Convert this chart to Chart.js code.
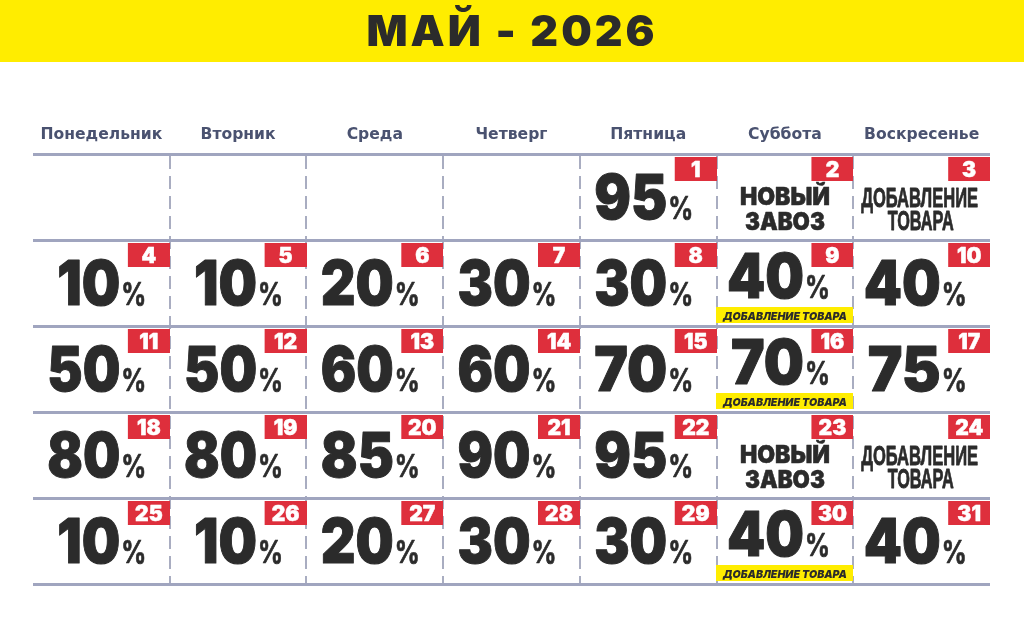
<!DOCTYPE html>
<html>
<head>
<meta charset="utf-8">
<style>
  html, body { margin: 0; background: #fff; }
  canvas { display: block; }
</style>
<script src="https://cdn.jsdelivr.net/npm/chart.js@4"></script>
</head>
<body>
<canvas id="calendar" width="1024" height="640"></canvas>
<script>
const monthTitle = "МАЙ - 2026";
const weekdays = ["Понедельник", "Вторник", "Среда", "Четверг", "Пятница", "Суббота", "Воскресенье"];
const weeks = ["w1", "w2", "w3", "w4", "w5"];
const firstDayColumn = 4;
const days = [1, 2, 3, 4, 5, 6, 7, 8, 9, 10, 11, 12, 13, 14, 15, 16, 17, 18, 19, 20, 21, 22, 23, 24, 25, 26, 27, 28, 29, 30, 31];
const discounts = [95, null, null, 10, 10, 20, 30, 30, 40, 40, 50, 50, 60, 60, 70, 70, 75, 80, 80, 85, 90, 95, null, null, 10, 10, 20, 30, 30, 40, 40];
const newStockDays = [2, 23];
const restockDays = [3, 24];
const stripDays = [9, 16, 30];
const newStockLines = ["НОВЫЙ", "ЗАВОЗ"];
const restockLines = ["ДОБАВЛЕНИЕ", "ТОВАРА"];
const stripText = "ДОБАВЛЕНИЕ ТОВАРА";

const heavy = "Inter, 'Open Sans', sans-serif";
const ink = "#2b2b2b";

function cellOf(day) {
  const slot = day - 1 + firstDayColumn;
  return { x: weekdays[slot % 7], y: weeks[Math.floor(slot / 7)], day: day };
}

// the badge and the strip are stamps the size of one cell, placed by the point element
function cellStamp(color, x, y, w, h) {
  const c = document.createElement("canvas");
  c.width = 137;
  c.height = 86;
  const g = c.getContext("2d");
  g.fillStyle = color;
  g.fillRect(x, y, w, h);
  return c;
}

function boldText(ctx, text, x, y, maxWidth, stroke) {
  ctx.lineWidth = stroke;
  ctx.lineJoin = "round";
  ctx.strokeStyle = ctx.fillStyle;
  ctx.strokeText(text, x, y, maxWidth);
  ctx.fillText(text, x, y, maxWidth);
}

function drawDiscount(ctx, p, value, lifted) {
  const base = p.y + (lifted ? 15 : 22);
  const width = value === 10 ? 63 : value === 40 ? 77 : 73;
  ctx.fillStyle = ink;
  ctx.textAlign = "right";
  ctx.font = "900 62px " + heavy;
  boldText(ctx, String(value), p.x + 19, base, width, 1);
  ctx.textAlign = "left";
  ctx.font = "700 31px " + heavy;
  boldText(ctx, "%", p.x + 20, base, 25, 0.7);
}

const calendarText = {
  id: "calendarText",
  beforeDraw(chart) {
    const ctx = chart.ctx;
    ctx.save();
    ctx.fillStyle = "#ffed00";
    ctx.fillRect(0, 0, chart.width, 62);
    ctx.restore();
  },
  afterDatasetsDraw(chart) {
    const ctx = chart.ctx;
    const points = chart.getDatasetMeta(0).data;
    ctx.save();
    ctx.textBaseline = "alphabetic";

    ctx.fillStyle = ink;
    ctx.textAlign = "center";
    ctx.font = "900 43px " + heavy;
    ctx.letterSpacing = "3px";
    ctx.fillText(monthTitle, 512, 46);
    ctx.letterSpacing = "0px";

    days.forEach((day, i) => {
      const p = points[i];
      const top = p.y - 43;

      ctx.fillStyle = "#fff";
      ctx.textAlign = "center";
      ctx.font = "900 21px " + heavy;
      boldText(ctx, String(day), p.x + 47.5, top + 22.5, 32, 0.5);

      if (discounts[i] !== null) {
        drawDiscount(ctx, p, discounts[i], stripDays.includes(day));
      }
      ctx.textAlign = "center";
      ctx.fillStyle = ink;
      if (newStockDays.includes(day)) {
        ctx.font = "900 24px " + heavy;
        boldText(ctx, newStockLines[0], p.x, p.y + 8, 90, 0.5);
        boldText(ctx, newStockLines[1], p.x, p.y + 33, 80, 0.5);
      }
      if (restockDays.includes(day)) {
        ctx.font = "bold 27px 'Liberation Sans', sans-serif";
        boldText(ctx, restockLines[0], p.x - 2, p.y + 10, 117, 0.8);
        boldText(ctx, restockLines[1], p.x - 1, p.y + 33, 66, 0.8);
      }
      if (stripDays.includes(day)) {
        ctx.font = "italic 900 11px " + heavy;
        ctx.fillText(stripText, p.x, p.y + 37, 124);
      }
    });
    ctx.restore();
  }
};

new Chart(document.getElementById("calendar"), {
  type: "line",
  data: {
    labels: weekdays,
    datasets: [
      {
        label: "Скидка",
        data: days.map(cellOf),
        showLine: false,
        pointStyle: cellStamp("#de2f3c", 95, 3, 42, 24),
        pointRadius: 1
      },
      {
        label: "Добавление товара",
        data: stripDays.map(cellOf),
        showLine: false,
        pointStyle: cellStamp("#ffed00", 0, 67, 137, 16),
        pointRadius: 1
      }
    ]
  },
  options: {
    responsive: false,
    animation: false,
    layout: { padding: { top: 120, left: 33, right: 34, bottom: 56 } },
    plugins: {
      legend: { display: false },
      tooltip: { enabled: false }
    },
    scales: {
      x: {
        type: "category",
        position: "top",
        offset: true,
        afterFit(scale) { scale.height = 34; },
        border: { display: false, dash: [13, 7], dashOffset: -2 },
        ticks: {
          color: "#4a5270",
          font: { family: "'DejaVu Sans'", size: 15.6, weight: "bold" },
          padding: 10,
          maxRotation: 0,
          autoSkip: false
        },
        grid: {
          drawTicks: false,
          offset: true,
          lineWidth: 2,
          color: (c) => (c.type === "tick" && c.index > 0 ? "#a9adc1" : "rgba(0,0,0,0)")
        }
      },
      y: {
        type: "category",
        labels: weeks,
        offset: true,
        afterFit(scale) { scale.width = 0; },
        border: { display: false },
        ticks: { display: false },
        grid: {
          drawTicks: false,
          offset: true,
          lineWidth: 3,
          color: "#a0a5bf"
        }
      }
    }
  },
  plugins: [calendarText]
});
</script>
</body>
</html>
